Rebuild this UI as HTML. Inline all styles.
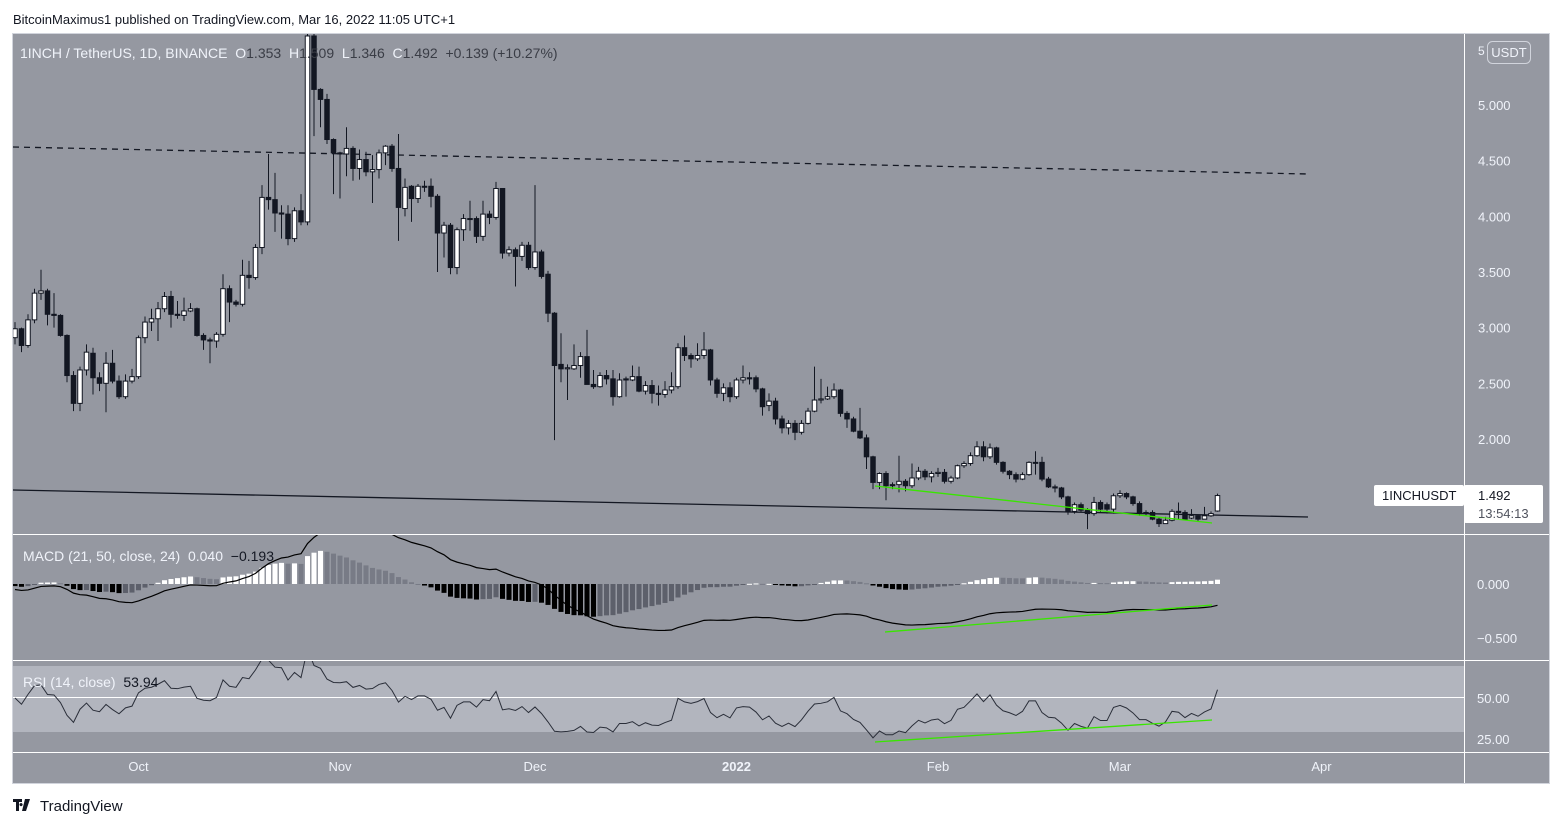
<!DOCTYPE html>
<html><head><meta charset="utf-8"><style>
html,body{margin:0;padding:0;background:#fff;width:1562px;height:827px;overflow:hidden}
svg{display:block;font-family:"Liberation Sans",sans-serif}
text{white-space:pre}
</style></head><body>
<svg id="c" width="1562" height="827" xmlns="http://www.w3.org/2000/svg">
<defs>
<clipPath id="pc"><rect x="13" y="34" width="1451" height="500"/></clipPath>
<clipPath id="mc"><rect x="13" y="535" width="1451" height="125"/></clipPath>
<clipPath id="rc"><rect x="13" y="661" width="1451" height="87"/></clipPath>
</defs>
<text x="13" y="24" font-size="13" fill="#131722">BitcoinMaximus1 published on TradingView.com, Mar 16, 2022 11:05 UTC+1</text>
<rect x="12.5" y="33.5" width="1537" height="750" fill="#9598a1" stroke="#d1d4dc"/>
<rect x="13" y="666" width="1451" height="66" fill="#b2b5be"/>
<line x1="13" y1="697.5" x2="1464" y2="697.5" stroke="#fff" stroke-width="1"/>
<line x1="13" y1="534.5" x2="1549" y2="534.5" stroke="#fff"/>
<line x1="13" y1="660.5" x2="1549" y2="660.5" stroke="#fff"/>
<line x1="13" y1="752.5" x2="1549" y2="752.5" stroke="#fff"/>
<line x1="1464.5" y1="34" x2="1464.5" y2="783" stroke="#fff"/>
<g id="price" clip-path="url(#pc)"></g>
<g id="macd" clip-path="url(#mc)"></g>
<g id="rsi" clip-path="url(#rc)"></g>
<g id="axes"></g>
<text x="20" y="58" font-size="14" fill="#f0f3fa">1INCH / TetherUS, 1D, BINANCE  O<tspan fill="#3a3d46">1.353</tspan>  H<tspan fill="#3a3d46">1.509</tspan>  L<tspan fill="#3a3d46">1.346</tspan>  C<tspan fill="#3a3d46">1.492</tspan>  <tspan fill="#3a3d46">+0.139 (+10.27%)</tspan></text>
<text x="23" y="561" font-size="14" fill="#f0f3fa">MACD (21, 50, close, 24)  0.040  <tspan fill="#131722">−0.193</tspan></text>
<text x="23" y="687" font-size="14" fill="#f0f3fa">RSI (14, close)  <tspan fill="#131722">53.94</tspan></text>
<rect x="1487.5" y="41.5" width="43" height="22" rx="5" fill="none" stroke="#d1d4dc"/>
<text x="1478" y="55" font-size="12" fill="#f0f3fa">5</text>
<text x="1509" y="57" font-size="13" fill="#f0f3fa" text-anchor="middle">USDT</text>
<rect x="1374" y="485" width="90" height="21" rx="2" fill="#fff"/>
<text x="1382" y="500" font-size="13" fill="#131722">1INCHUSDT</text>
<rect x="1464" y="485" width="79" height="38" rx="2" fill="#fff"/>
<text x="1478" y="500" font-size="13" fill="#131722">1.492</text>
<text x="1478" y="518" font-size="13" fill="#50535e">13:54:13</text>
<g>
<path d="M13 799h9v3h-3v9h-3v-9h-3z M21 803a1.6 1.6 0 1 0 0.1 0z M25 799h5l-4 12h-4z" fill="#131722"/>
<text x="40" y="811" font-size="15" fill="#131722">TradingView</text></g>
</svg>
<script>
const opens=[2.91,2.99,2.84,3.07,3.31,3.33,3.12,3.11,2.93,2.57,2.32,2.62,2.77,2.55,2.50,2.68,2.52,2.38,2.52,2.56,2.91,3.05,3.08,3.17,3.28,3.12,3.11,3.15,3.17,2.93,2.89,2.88,2.94,3.35,3.23,3.21,3.47,3.45,3.72,4.17,4.15,4.03,4.02,3.80,4.05,3.95,5.62,5.14,5.05,4.69,4.57,4.56,4.61,4.43,4.51,4.40,4.42,4.57,4.63,4.43,4.07,4.27,4.16,4.27,4.27,4.18,3.85,3.92,3.54,3.88,3.98,3.98,3.82,4.02,3.99,4.25,3.67,3.70,3.64,3.74,3.54,3.68,3.48,3.13,2.67,2.63,2.63,2.66,2.74,2.49,2.47,2.57,2.54,2.38,2.54,2.53,2.56,2.43,2.48,2.41,2.40,2.44,2.47,2.82,2.75,2.72,2.75,2.80,2.53,2.41,2.46,2.38,2.53,2.55,2.55,2.45,2.30,2.34,2.18,2.10,2.14,2.06,2.14,2.25,2.35,2.36,2.38,2.44,2.23,2.18,2.07,2.01,1.84,1.61,1.69,1.59,1.59,1.62,1.58,1.65,1.71,1.66,1.69,1.70,1.62,1.65,1.76,1.78,1.85,1.93,1.84,1.92,1.79,1.71,1.68,1.64,1.68,1.79,1.79,1.64,1.57,1.56,1.48,1.35,1.41,1.36,1.33,1.43,1.41,1.37,1.49,1.51,1.48,1.42,1.34,1.34,1.28,1.24,1.27,1.35,1.34,1.29,1.31,1.28,1.31,1.353];
const highs=[3.05,3.0,3.12,3.35,3.52,3.35,3.31,3.12,2.94,2.61,2.65,2.85,2.82,2.60,2.78,2.80,2.57,2.58,2.63,2.93,3.10,3.17,3.23,3.32,3.33,3.24,3.27,3.22,3.18,2.95,2.91,2.96,3.48,3.38,3.25,3.61,3.60,3.75,4.28,4.56,4.39,4.10,4.10,4.08,4.20,5.66,5.66,5.15,5.10,4.70,4.58,4.80,4.63,4.60,4.58,4.55,4.60,4.64,4.65,4.74,4.34,4.28,4.29,4.32,4.34,4.20,3.95,3.94,3.90,4.02,4.14,4.00,4.14,4.05,4.31,4.25,3.73,3.72,3.77,3.77,4.28,3.70,3.51,3.14,2.95,2.67,2.85,2.78,2.98,2.62,2.60,2.62,2.62,2.59,2.56,2.66,2.65,2.52,2.53,2.48,2.52,2.60,2.86,2.93,2.77,2.86,2.96,2.81,2.55,2.50,2.51,2.55,2.66,2.60,2.57,2.46,2.41,2.37,2.21,2.17,2.17,2.17,2.28,2.65,2.54,2.47,2.50,2.45,2.25,2.20,2.28,2.04,1.85,1.70,1.71,1.61,1.85,1.64,1.78,1.75,1.73,1.71,1.74,1.73,1.67,1.77,1.80,1.88,1.98,1.98,1.96,1.93,1.80,1.72,1.70,1.70,1.80,1.89,1.84,1.66,1.59,1.57,1.49,1.43,1.43,1.38,1.48,1.45,1.43,1.51,1.54,1.52,1.49,1.44,1.36,1.36,1.30,1.30,1.37,1.43,1.36,1.37,1.32,1.39,1.35,1.509];
const lows=[2.85,2.78,2.82,3.04,3.25,3.02,3.0,2.92,2.51,2.25,2.25,2.57,2.40,2.43,2.24,2.50,2.36,2.36,2.50,2.54,2.86,2.97,2.88,3.14,3.0,3.08,3.06,3.14,2.92,2.80,2.68,2.82,2.92,3.05,3.19,3.19,3.35,3.43,3.66,4.06,3.86,3.80,3.74,3.77,3.92,3.92,4.72,4.80,4.65,4.20,4.16,4.36,4.32,4.33,4.36,4.12,4.34,4.46,4.40,3.78,4.00,3.95,4.12,4.22,4.08,3.50,3.63,3.48,3.48,3.78,3.87,3.76,3.78,3.93,3.97,3.62,3.64,3.37,3.60,3.52,3.52,3.44,3.05,1.99,2.51,2.35,2.62,2.55,2.49,2.45,2.46,2.49,2.30,2.37,2.38,2.52,2.42,2.40,2.32,2.30,2.37,2.41,2.45,2.70,2.64,2.70,2.72,2.48,2.37,2.34,2.33,2.36,2.50,2.49,2.42,2.21,2.25,2.13,2.05,2.04,1.99,2.04,2.13,2.24,2.32,2.35,2.36,2.20,2.10,2.06,2.00,1.73,1.55,1.55,1.45,1.55,1.52,1.53,1.56,1.63,1.63,1.61,1.66,1.60,1.60,1.64,1.74,1.76,1.84,1.80,1.82,1.77,1.69,1.64,1.61,1.63,1.67,1.68,1.62,1.56,1.52,1.46,1.32,1.33,1.34,1.19,1.31,1.34,1.33,1.33,1.47,1.46,1.40,1.31,1.31,1.27,1.21,1.24,1.26,1.28,1.27,1.28,1.26,1.28,1.30,1.346];
const closes=[2.99,2.84,3.07,3.31,3.33,3.12,3.11,2.93,2.57,2.32,2.62,2.78,2.55,2.50,2.68,2.52,2.38,2.52,2.56,2.91,3.05,3.08,3.17,3.28,3.12,3.11,3.15,3.17,2.93,2.89,2.88,2.94,3.35,3.23,3.21,3.47,3.45,3.72,4.17,4.15,4.03,4.02,3.80,4.05,3.95,5.62,5.14,5.05,4.69,4.57,4.56,4.61,4.43,4.51,4.40,4.42,4.57,4.63,4.43,4.08,4.26,4.16,4.27,4.27,4.18,3.85,3.92,3.54,3.88,3.98,3.98,3.82,4.02,3.99,4.25,3.67,3.70,3.64,3.74,3.54,3.68,3.46,3.13,2.66,2.63,2.64,2.66,2.74,2.49,2.47,2.57,2.54,2.38,2.53,2.53,2.56,2.43,2.48,2.41,2.40,2.44,2.47,2.82,2.75,2.72,2.75,2.80,2.53,2.41,2.46,2.38,2.53,2.55,2.54,2.45,2.29,2.34,2.18,2.10,2.14,2.06,2.14,2.25,2.35,2.36,2.38,2.44,2.23,2.18,2.07,2.01,1.84,1.61,1.69,1.58,1.58,1.62,1.58,1.65,1.71,1.66,1.69,1.70,1.62,1.65,1.76,1.78,1.85,1.93,1.84,1.92,1.79,1.71,1.68,1.64,1.68,1.79,1.79,1.64,1.57,1.56,1.48,1.35,1.41,1.36,1.33,1.43,1.37,1.37,1.49,1.51,1.48,1.42,1.33,1.33,1.28,1.24,1.27,1.35,1.34,1.28,1.31,1.28,1.31,1.33,1.492];
const priceTicks=[5.0,4.5,4.0,3.5,3.0,2.5,2.0];
const macdTicks=[0.0,-0.5];
const rsiTicks=[50,25];
const timeLabels=["Oct","Nov","Dec","2022","Feb","Mar","Apr"];
const timeIdx=[19,50,80,111,142,170,201];
const macdSeed=[3.05,3.10];   // warm-up EMA seeds (fast, slow) for history before first bar
const rsiSeed=[0.07,0.07];    // warm-up avg gain / avg loss

const NS="http://www.w3.org/2000/svg";
const xOf=i=>15+i*6.5;
const yP=p=>105+(5-p)*111.33;
const yM=v=>584-v*108;
const yR=r=>698-(r-50)*1.64;
function mk(tag,attrs,parent){const e=document.createElementNS(NS,tag);for(const k in attrs)e.setAttribute(k,attrs[k]);parent.appendChild(e);return e;}
const gP=document.getElementById('price'),gM=document.getElementById('macd'),gR=document.getElementById('rsi'),gA=document.getElementById('axes');

let l=mk('line',{x1:13,y1:147,x2:1308,y2:174,stroke:'#131722','stroke-width':1.3,'stroke-dasharray':'6 5'},gP);


l=mk('line',{x1:13,y1:490,x2:1308,y2:517,stroke:'#131722','stroke-width':1.3},gP);



for(let i=0;i<closes.length;i++){
  const x=xOf(i),o=opens[i],c=closes[i],up=c>=o;
  const g=mk('g',{},gP);
  
  
  mk('line',{x1:x,y1:yP(highs[i]),x2:x,y2:yP(lows[i]),stroke:'#131722','stroke-width':1},g);
  const t=yP(Math.max(o,c)),b=yP(Math.min(o,c));
  mk('rect',{x:x-2.25,y:t,width:4.5,height:Math.max(1,b-t),fill:up?'#ffffff':'#131722',stroke:'#131722','stroke-width':1},g);
}
l=mk('line',{x1:875,y1:486,x2:1212,y2:523,stroke:'#39e600','stroke-width':1.3},gP);



function ema(arr,n,seed){const k=2/(n+1);const out=[];let e=seed;for(let i=0;i<arr.length;i++){e=arr[i]*k+e*(1-k);out.push(e);}return out;}
const ef=ema(closes,21,macdSeed[0]),es=ema(closes,50,macdSeed[1]);
const macd=closes.map((_,i)=>ef[i]-es[i]);
const sig=ema(macd,24,-0.03);
const hist=macd.map((m,i)=>m-sig[i]);
for(let i=0;i<hist.length;i++){
  const h=hist[i],prev=i?hist[i-1]:0;
  let col=h>=0?(h>=prev?'#ffffff':'#787b86'):(h<=prev?'#000000':'#5d606b');
  const y0=yM(0),y1=yM(h);
  const r=mk('rect',{x:xOf(i)-2.5,y:Math.min(y0,y1),width:5,height:Math.max(1,Math.abs(y1-y0)),fill:col},gM);
  
  
}
let pts=macd.map((m,i)=>xOf(i)+','+yM(m)).join(' ');
l=mk('polyline',{points:pts,fill:'none',stroke:'#000','stroke-width':1.2},gM);


l=mk('line',{x1:885,y1:632,x2:1212,y2:605,stroke:'#39e600','stroke-width':1.3},gM);



const rsi=[];let ag=rsiSeed[0],al=rsiSeed[1];
for(let i=0;i<closes.length;i++){
  if(i>0){const d=closes[i]-closes[i-1],g=Math.max(d,0),lo=Math.max(-d,0);
  ag=(ag*13+g)/14;al=(al*13+lo)/14;}
  rsi.push(al===0?100:100-100/(1+ag/al));
}
pts=rsi.map((r,i)=>xOf(i)+','+yR(r)).join(' ');
l=mk('polyline',{points:pts,fill:'none',stroke:'#2a2e39','stroke-width':1},gR);


l=mk('line',{x1:875,y1:742,x2:1212,y2:720,stroke:'#39e600','stroke-width':1.3},gR);



priceTicks.forEach(p=>{const t=mk('text',{x:1478,y:yP(p)+5,'font-size':13,fill:'#f0f3fa'},gA);t.textContent=p.toFixed(3);

});
macdTicks.forEach(v=>{const t=mk('text',{x:1477,y:yM(v)+5,'font-size':13,fill:'#f0f3fa'},gA);t.textContent=(v<0?'−':'')+Math.abs(v).toFixed(3);

});
rsiTicks.forEach(v=>{const t=mk('text',{x:1477,y:yR(v)+5,'font-size':13,fill:'#f0f3fa'},gA);t.textContent=v.toFixed(2);

});
timeLabels.forEach((s,k)=>{const t=mk('text',{x:xOf(timeIdx[k]),y:771,'font-size':13,fill:'#f0f3fa','text-anchor':'middle','font-weight':s==='2022'?'bold':'normal'},gA);t.textContent=s;

});
</script>
</body></html>
